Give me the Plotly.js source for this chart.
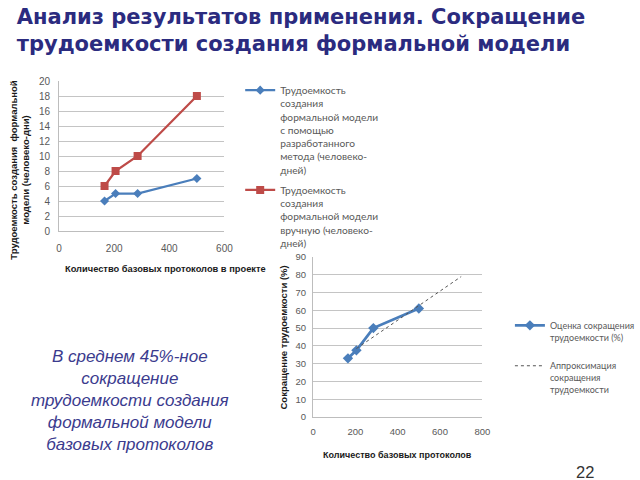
<!DOCTYPE html>
<html>
<head>
<meta charset="utf-8">
<script src="https://cdn.plot.ly/plotly-3.0.1.min.js"></script>
<style>html,body{margin:0;padding:0;background:#fff;}#chart{width:640px;height:480px;}</style>
</head>
<body>
<div id="chart"></div>
<script>
// ---- Data ----
const protocols = [165, 205, 285, 500];
const effortMethod = [4, 5, 5, 7];
const effortManual = [6, 8, 10, 18];
const reductionPct = [33, 37.5, 50, 61];
const trendX = [205, 700];
const trendY = [38.5, 79];

const nameMethod = 'Трудоемкость<br>создания<br>формальной модели<br>с помощью<br>разработанного<br>метода (человеко-<br>дней)';
const nameManual = 'Трудоемкость<br>создания<br>формальной модели<br>вручную (человеко-<br>дней)';
const nameReduction = 'Оценка сокращения<br>трудоемкости (%)';
const nameTrend = 'Аппроксимация<br>сокращения<br>трудоемкости';

const titleText = 'Анализ результатов применения. Сокращение<br>трудоемкости создания формальной модели';
const noteText = 'В среднем 45%-ное<br>сокращение<br>трудоемкости создания<br>формальной модели<br>базовых протоколов';

const W = 640, H = 480;
const px = v => v / W;
const py = v => 1 - v / H;

const blue = '#4a7ebb', red = '#be4b48';

const traces = [
  {x: protocols, y: effortMethod, name: nameMethod, type: 'scatter', mode: 'lines+markers',
   xaxis: 'x', yaxis: 'y', legend: 'legend', legendgroup: 'a',
   line: {color: blue, width: 2.25}, marker: {symbol: 'diamond', size: 7, color: blue}},
  {x: protocols, y: effortManual, name: nameManual, type: 'scatter', mode: 'lines+markers',
   xaxis: 'x', yaxis: 'y', legend: 'legend', legendgroup: 'b',
   line: {color: red, width: 2.25}, marker: {symbol: 'square', size: 8, color: red}},
  {x: protocols, y: reductionPct, name: nameReduction, type: 'scatter', mode: 'lines+markers',
   xaxis: 'x2', yaxis: 'y2', legend: 'legend2', legendgroup: 'c',
   line: {color: blue, width: 2.75}, marker: {symbol: 'diamond', size: 8, color: blue}},
  {x: trendX, y: trendY, name: nameTrend, type: 'scatter', mode: 'lines',
   xaxis: 'x2', yaxis: 'y2', legend: 'legend2', legendgroup: 'd',
   line: {color: '#555555', width: 1, dash: '3px,3px'}}
];

const tickFont = {family: 'Liberation Sans, Arial, sans-serif', size: 10, color: '#595959'};
const tickFont2 = {family: 'Liberation Sans, Arial, sans-serif', size: 9.5, color: '#595959'};
const axTitleFont = {family: 'Liberation Sans, Arial, sans-serif', size: 9.5, color: '#1a1a1a', weight: 'bold'};

const layout = {
  width: W, height: H,
  margin: {l: 0, r: 0, t: 0, b: 0},
  paper_bgcolor: '#ffffff', plot_bgcolor: '#ffffff',
  title: {text: titleText, x: px(17), xanchor: 'left', xref: 'paper', y: 1 - 24 / H, yanchor: 'top', yref: 'container',
          font: {family: 'DejaVu Sans, sans-serif', size: 21, color: '#2b2b7f', weight: 'bold'}},
  showlegend: true,
  xaxis: {domain: [px(60), px(228)], range: [0, 600], dtick: 200, showgrid: false, zeroline: false,
          showline: true, linecolor: '#bdbdbd', ticks: 'outside', ticklen: 8, tickcolor: 'rgba(0,0,0,0)',
          tickfont: tickFont, anchor: 'y'},
  yaxis: {domain: [py(231), py(81)], range: [0, 20], dtick: 2, gridcolor: '#c4c4c4', zeroline: false,
          showline: true, linecolor: '#bdbdbd', ticks: 'outside', ticklen: 6, tickcolor: 'rgba(0,0,0,0)',
          tickfont: tickFont, anchor: 'x'},
  xaxis2: {domain: [px(318), px(490)], range: [0, 800], dtick: 200, showgrid: false, zeroline: false,
          showline: true, linecolor: '#bdbdbd', ticks: 'outside', ticklen: 6, tickcolor: 'rgba(0,0,0,0)',
          tickfont: tickFont2, anchor: 'y2'},
  yaxis2: {domain: [py(417), py(257)], range: [0, 90], dtick: 10, gridcolor: '#c4c4c4', zeroline: false,
          showline: true, linecolor: '#bdbdbd', ticks: 'outside', ticklen: 4, tickcolor: 'rgba(0,0,0,0)',
          tickfont: tickFont2, anchor: 'x2'},
  legend: {x: px(244), y: py(77), xanchor: 'left', yanchor: 'top', bgcolor: 'rgba(0,0,0,0)',
           font: {family: 'Lato, Open Sans, sans-serif', size: 10.2, color: '#595959'},
           valign: 'top', tracegroupgap: 4, itemwidth: 30},
  legend2: {x: px(518), y: py(313), xanchor: 'left', yanchor: 'top', bgcolor: 'rgba(0,0,0,0)',
           font: {family: 'Lato, Open Sans, sans-serif', size: 9, color: '#595959'},
           valign: 'top', tracegroupgap: 14, itemwidth: 30},
  annotations: [
    {text: 'Трудоемкость создания  формальной<br>модели (человеко-дни)', textangle: -90,
     xref: 'paper', yref: 'paper', x: px(19), y: py(170), xanchor: 'center', yanchor: 'middle',
     showarrow: false, font: axTitleFont},
    {text: 'Количество базовых протоколов в проекте', xref: 'paper', yref: 'paper',
     x: px(64), y: py(269), xanchor: 'left', yanchor: 'middle', showarrow: false,
     font: {family: 'Liberation Sans, Arial, sans-serif', size: 9.3, color: '#1a1a1a', weight: 'bold'}},
    {text: 'Сокращение трудоемкости (%)', textangle: -90, xref: 'paper', yref: 'paper',
     x: px(287), y: py(338), xanchor: 'center', yanchor: 'middle', showarrow: false, font: axTitleFont},
    {text: 'Количество базовых протоколов', xref: 'paper', yref: 'paper',
     x: px(404), y: py(455), xanchor: 'center', yanchor: 'middle', showarrow: false,
     font: {family: 'Liberation Sans, Arial, sans-serif', size: 9, color: '#1a1a1a', weight: 'bold'}},
    {text: noteText, xref: 'paper', yref: 'paper', x: px(132), y: py(400), xanchor: 'center', yanchor: 'middle',
     showarrow: false, align: 'center',
     font: {family: 'Liberation Sans, Arial, sans-serif', size: 17, color: '#3b3b8e', style: 'italic'}},
    {text: '22', xref: 'paper', yref: 'paper', x: px(594), y: py(472), xanchor: 'center', yanchor: 'middle',
     showarrow: false, font: {family: 'Liberation Sans, Arial, sans-serif', size: 16.5, color: '#333333'}}
  ]
};

Plotly.newPlot('chart', traces, layout, {displayModeBar: false, staticPlot: true});
</script>
</body>
</html>
